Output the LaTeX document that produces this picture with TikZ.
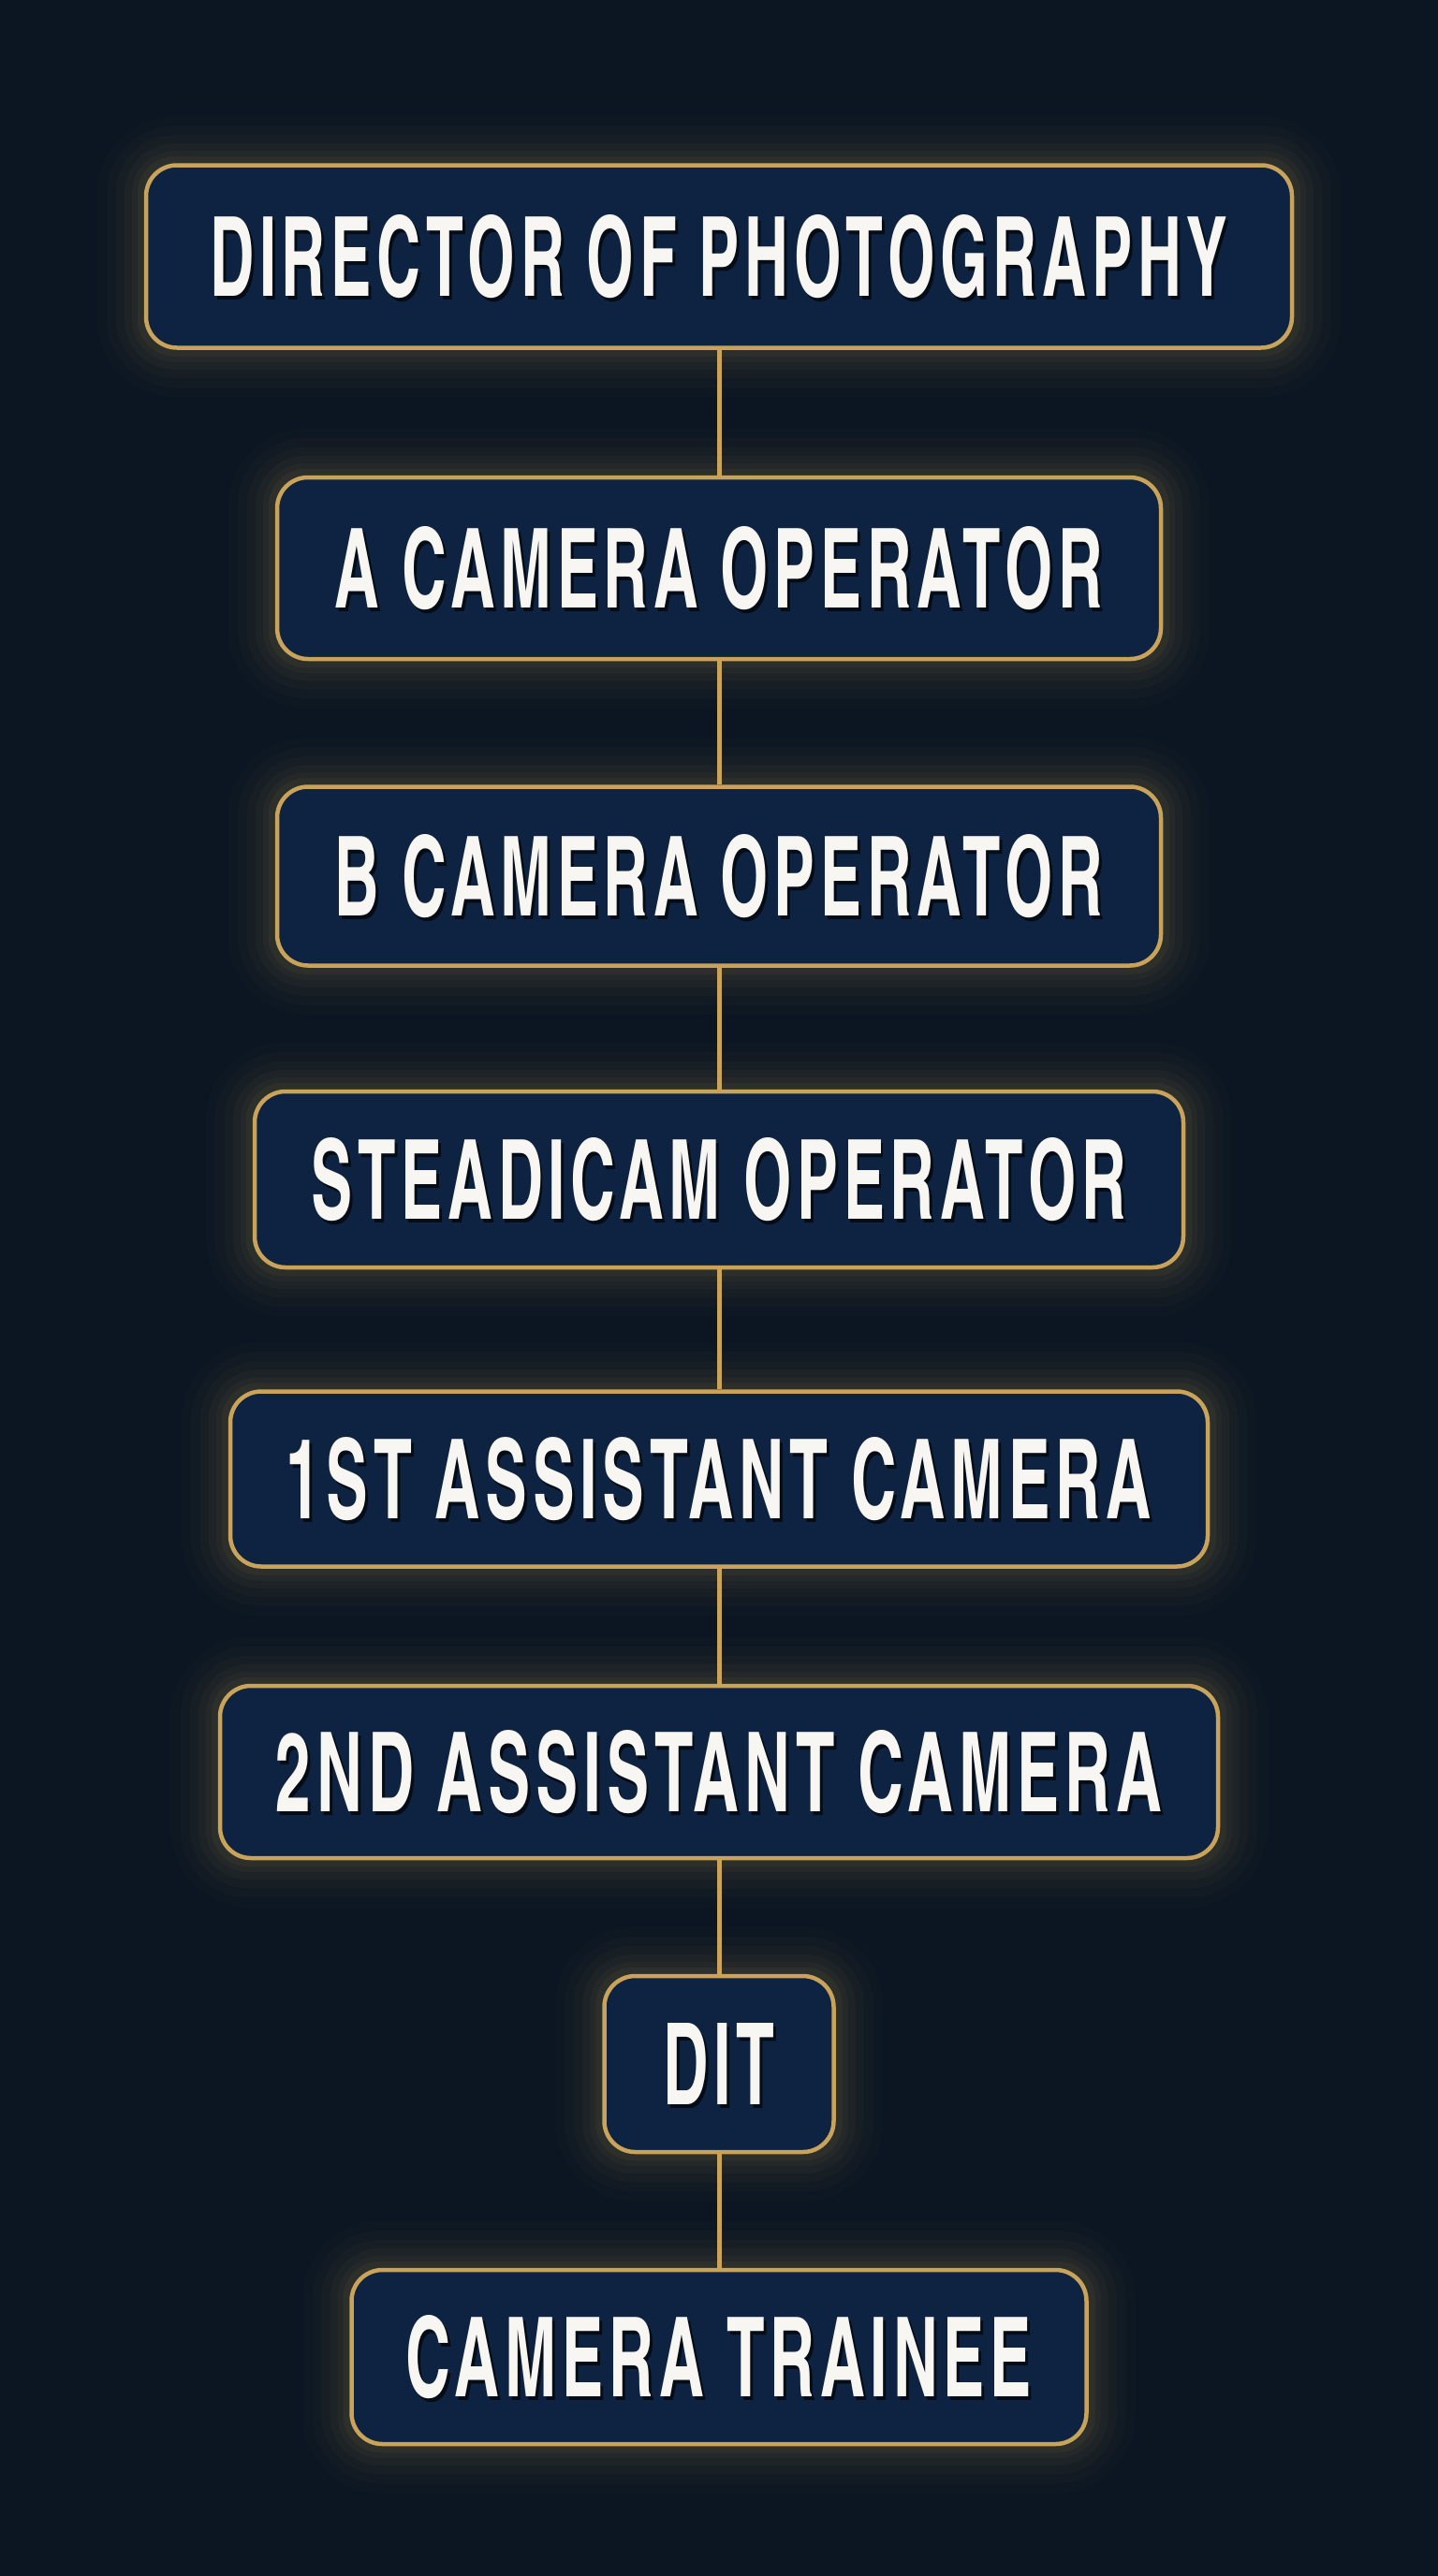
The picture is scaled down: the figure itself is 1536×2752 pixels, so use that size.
\documentclass[tikz,border=0pt]{standalone}
\usepackage{fontspec}
\usepackage{graphicx}
\newfontfamily\lblfont{texgyreheroscn-bold.otf}[LetterSpace=7]
\definecolor{bgc}{HTML}{0B1622}
\definecolor{boxc}{HTML}{0D2341}
\definecolor{gold}{HTML}{C9A35A}
\definecolor{textc}{HTML}{F7F6F2}
\definecolor{shadowc}{HTML}{050C16}
\pgfdeclarelayer{bglayer}
\pgfdeclarelayer{glowlayer}
\pgfsetlayers{bglayer,glowlayer,main}
\newcommand\rolelabel[2]{%
  \makebox[0pt][l]{\smash{\kern3pt\raisebox{-4pt}{\color{shadowc}\resizebox{#1pt}{87pt}{\lblfont #2}}}}%
  \resizebox{#1pt}{87pt}{\color{textc}\lblfont #2}}
\begin{document}
\begin{tikzpicture}[x=1pt,y=-1pt,
  role/.style={draw=gold, line width=4.5pt, fill=boxc, rounded corners=33pt, inner sep=0pt},
  link/.style={draw=gold, line width=5pt},
  glowline/.style={draw=gold, rounded corners=33pt}]
\useasboundingbox (0,0) rectangle (1536,2752);
\begin{pgfonlayer}{bglayer}
  \fill[bgc] (0,0) rectangle (1536,2752);
\end{pgfonlayer}

\node[role, minimum width=1224pt, minimum height=195pt] (dop) at (768,274) {\rolelabel{1086}{DIRECTOR OF PHOTOGRAPHY}};
\node[role, minimum width=944pt, minimum height=194pt] (acam) at (768,607) {\rolelabel{820}{A CAMERA OPERATOR}};
\node[role, minimum width=944pt, minimum height=191pt] (bcam) at (768,936) {\rolelabel{820}{B CAMERA OPERATOR}};
\node[role, minimum width=992pt, minimum height=188pt] (steadi) at (768,1260) {\rolelabel{870}{STEADICAM OPERATOR}};
\node[role, minimum width=1044pt, minimum height=187pt] (firstac) at (768,1580) {\rolelabel{924}{1ST ASSISTANT CAMERA}};
\node[role, minimum width=1066pt, minimum height=184pt] (secondac) at (768,1893) {\rolelabel{946}{2ND ASSISTANT CAMERA}};
\node[role, minimum width=245pt, minimum height=188pt] (dit) at (768,2205) {\rolelabel{119}{DIT}};
\node[role, minimum width=785pt, minimum height=186pt] (trainee) at (768,2518) {\rolelabel{668}{CAMERA TRAINEE}};

\begin{pgfonlayer}{glowlayer}
  \foreach \n in {dop,acam,bcam,steadi,firstac,secondac,dit,trainee}{
    \foreach \w/\o in {100/0.02,80/0.025,60/0.03,42/0.035,26/0.045,14/0.06}{
      \draw[glowline, line width=\w pt, opacity=\o] (\n.south west) rectangle (\n.north east);
    }
  }
  \draw[link] (dop.south) -- (acam.north);
  \draw[link] (acam.south) -- (bcam.north);
  \draw[link] (bcam.south) -- (steadi.north);
  \draw[link] (steadi.south) -- (firstac.north);
  \draw[link] (firstac.south) -- (secondac.north);
  \draw[link] (secondac.south) -- (dit.north);
  \draw[link] (dit.south) -- (trainee.north);
\end{pgfonlayer}
\end{tikzpicture}
\end{document}
